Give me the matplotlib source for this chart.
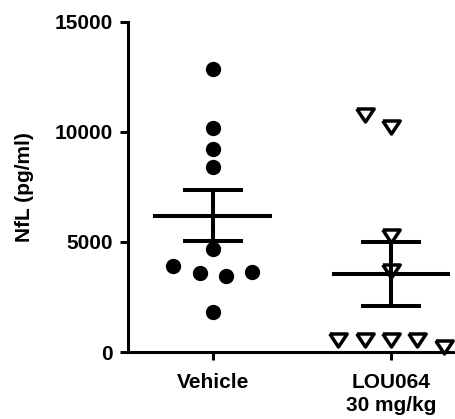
import matplotlib
matplotlib.use("Agg")
from matplotlib import pyplot as plt
import numpy as np

groups = ["Vehicle", "LOU064\n30 mg/kg"]

vehicle = [12850, 10150, 9200, 8410, 4700, 3900, 3610, 3440, 3640, 1820]
lou064 = [10750, 10230, 5290, 3680, 530, 560, 530, 560, 220]

means = [6180, 3540]
sems = [1160, 1460]

# horizontal scatter of points (layout only, like Prism's column scatter)
spread = 0.148
veh_dx = [0, 0, 0, 0, 0, -1.5, -0.5, 0.5, 1.5, 0]
lou_dx = [-1, 0, 0, 0, -2, -1, 0, 1, 2]

plt.rcParams['font.family'] = ['Liberation Sans', 'DejaVu Sans']
plt.rcParams['font.weight'] = 'bold'
plt.rcParams['font.size'] = 15

fig = plt.figure(figsize=(4.56, 4.19), dpi=100)
W, H = 456, 419
ax = fig.add_axes([128 / W, 67 / H, 336 / W, 330.3 / H])

tri = [(-1, 0.75), (1, 0.75), (0, -0.75), (-1, 0.75)]

ax.plot(0 + np.array(veh_dx) * spread, vehicle, 'o', color='black',
        markersize=10, clip_on=False, zorder=3)
ax.plot(1 + np.array(lou_dx) * spread, lou064, linestyle='none', marker=tri,
        markersize=12.5, markerfacecolor='white', markeredgecolor='black',
        markeredgewidth=2.5, clip_on=False, zorder=3)

for i, (m, s) in enumerate(zip(means, sems)):
    ax.plot([i - 0.333, i + 0.333], [m, m], color='black', lw=2.9,
            solid_capstyle='butt', zorder=4)
    ax.plot([i, i], [m - s, m + s], color='black', lw=2.9,
            solid_capstyle='butt', zorder=4)
    for y in (m - s, m + s):
        ax.plot([i - 0.17, i + 0.17], [y, y], color='black', lw=2.9,
                solid_capstyle='butt', zorder=4)

ax.set_xlim(-0.476, 1.41)
ax.set_ylim(0, 15000)
ax.set_yticks([0, 5000, 10000, 15000])
ax.set_xticks([0, 1])
ax.set_xticklabels(groups, fontweight='bold', linespacing=1.3)
ax.set_ylabel("NfL (pg/ml)", fontweight='bold', labelpad=15)

for side in ['top', 'right']:
    ax.spines[side].set_visible(False)
for side in ['left', 'bottom']:
    ax.spines[side].set_linewidth(2.2)
ax.tick_params(direction='out', length=6, width=2.2, pad=5)
ax.tick_params(axis='x', pad=9)

fig.savefig("out.png", dpi=100)
